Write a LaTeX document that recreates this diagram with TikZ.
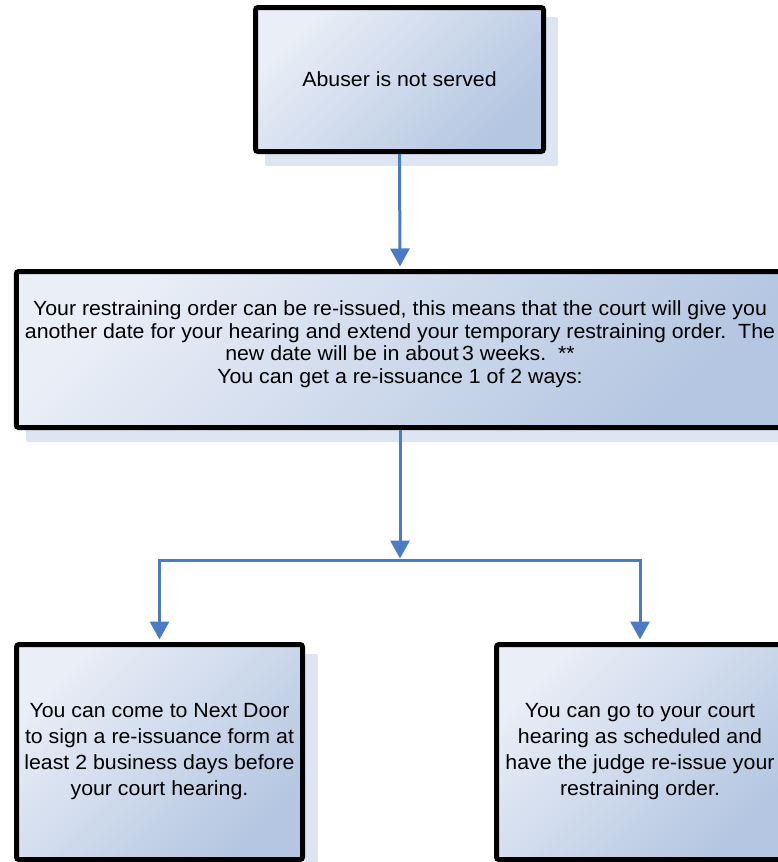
\documentclass[tikz,border=0pt]{standalone}
\usepackage{fontspec}
\setmainfont[FakeStretch=1.04]{Liberation Sans}
\usetikzlibrary{arrows.meta}
\definecolor{arr}{HTML}{4A7BC4}
\definecolor{fillA}{HTML}{E9EEF7}
\definecolor{fillB}{HTML}{B4C6E1}
\definecolor{shad}{HTML}{DCE5F1}
\tikzset{
  box/.style={draw=black, line width=5pt, rounded corners=2.5pt,
    top color=fillA, bottom color=fillB, shading angle=45,
    inner sep=0pt, align=center},
  shadowbox/.style={fill=shad, rounded corners=2pt},
  conn/.style={draw=arr, line width=3pt,
    -{Triangle[width=19pt,length=18pt]}, shorten >=2.5pt}
}
\begin{document}
\begin{tikzpicture}[x=1pt,y=-1pt]
\useasboundingbox (0,0) rectangle (778,862);
% shadows
\fill[shadowbox] (265,17) rectangle (558,166);
\fill[shadowbox] (26,282) rectangle (800,442);
\fill[shadowbox] (26,654) rectangle (318,880);
% boxes
\node[box, minimum width=288pt, minimum height=144pt,
  font=\fontsize{20.5}{24}\selectfont] (t) at (399.5,79.5) {Abuser is not served};
\node[box, minimum width=767.5pt, minimum height=156pt,
  font=\fontsize{20.5}{22.5}\selectfont] (m) at (400,349.5)
  {Your restraining order can be re-issued, this means that the court will give you\\
   another date for your hearing and extend your temporary restraining order.\ \ The\\
   new date will be in about\,3 weeks.\ \ **\\
   You can get a re-issuance 1 of 2 ways:\\[-8pt]};
\node[box, minimum width=286pt, minimum height=215pt,
  font=\fontsize{20.5}{26}\selectfont] (l) at (159.5,752)
  {You can come to Next Door\\ to sign a re-issuance form at\\ least 2 business days before\\ your court hearing.};
\node[box, minimum width=287pt, minimum height=215pt,
  font=\fontsize{20.5}{26}\selectfont] (r) at (640,752)
  {You can go to your court\\ hearing as scheduled and\\ have the judge re-issue your\\ restraining order.};
% connectors
\coordinate (split) at (400,560);
\draw[conn] (t.south) -- (m.north);
\draw[conn, shorten >=1.5pt] (m.south) -- (split);
\draw[conn] (split) -| (l.north);
\draw[conn] (split) -| (r.north);
\end{tikzpicture}
\end{document}
